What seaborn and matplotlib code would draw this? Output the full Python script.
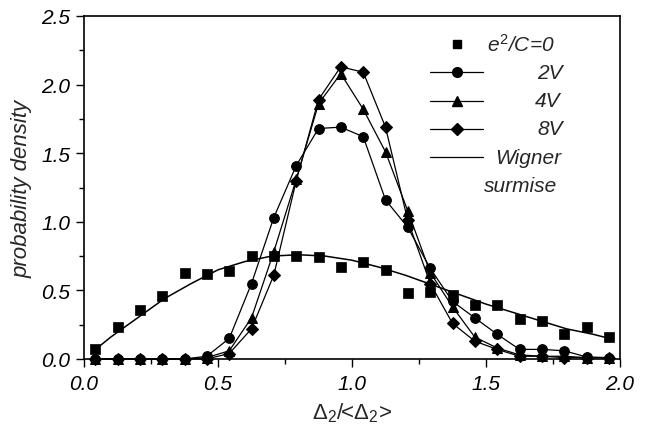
import matplotlib
matplotlib.use("Agg")
import matplotlib.pyplot as plt
import seaborn as sns
import pandas as pd
from matplotlib.lines import Line2D
from matplotlib.ticker import MultipleLocator, FormatStrFormatter

# ---- data ----
x_bins = [0.042, 0.125, 0.208, 0.292, 0.375, 0.458, 0.542, 0.625, 0.708, 0.792, 0.875, 0.958,
          1.042, 1.125, 1.208, 1.292, 1.375, 1.458, 1.542, 1.625, 1.708, 1.792, 1.875, 1.958]
p_0V = [0.07, 0.23, 0.36, 0.46, 0.63, 0.62, 0.64, 0.75, 0.75, 0.75, 0.74, 0.67,
        0.71, 0.65, 0.48, 0.49, 0.47, 0.39, 0.39, 0.29, 0.28, 0.18, 0.23, 0.16]
p_2V = [0.0, 0.0, 0.0, 0.0, 0.0, 0.02, 0.15, 0.55, 1.03, 1.41, 1.68, 1.69,
        1.62, 1.16, 0.96, 0.66, 0.42, 0.30, 0.18, 0.07, 0.07, 0.06, 0.015, 0.01]
p_4V = [0.0, 0.0, 0.0, 0.0, 0.0, 0.01, 0.06, 0.30, 0.78, 1.31, 1.86, 2.08,
        1.82, 1.51, 1.08, 0.63, 0.38, 0.16, 0.08, 0.03, 0.02, 0.02, 0.01, 0.01]
p_8V = [0.0, 0.0, 0.0, 0.0, 0.0, 0.0, 0.04, 0.22, 0.61, 1.30, 1.89, 2.13,
        2.09, 1.69, 1.01, 0.55, 0.26, 0.13, 0.07, 0.02, 0.02, 0.01, 0.01, 0.01]
wigner_x = [0.04, 0.1, 0.2, 0.3, 0.4, 0.5, 0.6, 0.7, 0.8, 0.9, 1.0,
            1.1, 1.2, 1.3, 1.4, 1.5, 1.6, 1.7, 1.8, 1.9, 1.96]
wigner_y = [0.065, 0.16, 0.30, 0.44, 0.55, 0.65, 0.71, 0.75, 0.76, 0.75, 0.72,
            0.67, 0.61, 0.54, 0.47, 0.40, 0.34, 0.28, 0.22, 0.18, 0.15]
legend_labels = [r"$e^2$/C=0", "2V", "4V", "8V", "Wigner", "surmise"]
xlabel = r"$\mathrm{\Delta_2}$/<$\mathrm{\Delta_2}$>"
ylabel = "probability density"

sns.set_style("ticks")
plt.rcParams["font.family"] = ["Liberation Sans", "DejaVu Sans"]
plt.rcParams["mathtext.fontset"] = "custom"
plt.rcParams["mathtext.rm"] = "Liberation Sans"
plt.rcParams["mathtext.it"] = "Liberation Sans:italic"
plt.rcParams["mathtext.bf"] = "Liberation Sans:bold"

fig = plt.figure(figsize=(6.64, 4.31), dpi=100)
ax = fig.add_axes([84 / 664, 1 - 360 / 431, 536 / 664, 343 / 431])

FS = 14.5
ms = 7.0
common = dict(color="black", lw=0.9, markeredgecolor="black", markerfacecolor="black",
              markersize=ms, clip_on=False, zorder=5)

sns.lineplot(x=wigner_x, y=wigner_y, ax=ax, color="black", lw=1.1, zorder=3)
sns.lineplot(x=x_bins, y=p_2V, ax=ax, marker="o", **common)
sns.lineplot(x=x_bins, y=p_4V, ax=ax, marker="^", **common)
sns.lineplot(x=x_bins, y=p_8V, ax=ax, marker="D", **{**common, "markersize": ms - 0.8})
sns.scatterplot(x=x_bins, y=p_0V, ax=ax, marker="s", color="black", edgecolor="black",
                s=ms ** 2, linewidth=0.5, clip_on=False, zorder=6)

ax.set_xlim(0, 2.0)
ax.set_ylim(0, 2.5)
ax.xaxis.set_major_locator(MultipleLocator(0.5))
ax.xaxis.set_minor_locator(MultipleLocator(0.25))
ax.yaxis.set_major_locator(MultipleLocator(0.5))
ax.yaxis.set_minor_locator(MultipleLocator(0.25))
ax.xaxis.set_major_formatter(FormatStrFormatter("%.1f"))
ax.yaxis.set_major_formatter(FormatStrFormatter("%.1f"))
ax.tick_params(axis="both", which="major", direction="out", length=6, width=1.0,
               labelsize=FS + 0.5, color="black", labelcolor="black")
ax.tick_params(axis="both", which="minor", direction="out", length=3.5, width=1.0, color="black")
ax.tick_params(axis="x", pad=5)
ax.tick_params(axis="y", pad=4)
for lab in ax.get_xticklabels() + ax.get_yticklabels():
    lab.set_fontstyle("italic")
for sp in ax.spines.values():
    sp.set_visible(True)
    sp.set_linewidth(1.2)
    sp.set_color("black")

ax.set_xlabel(xlabel, fontsize=16, fontstyle="normal", labelpad=5)
ax.set_ylabel(ylabel, fontsize=16, fontstyle="italic", labelpad=6)

# ---- legend drawn in axes coordinates ----
hx0, hx1, hxm = 0.6455, 0.7444, 0.696
rows = [0.918, 0.836, 0.753, 0.6706, 0.588, 0.505]
text_right = [0.8787, 0.8937, 0.889, 0.8937, 0.891, 0.882]
handles = [("s", False), ("o", True), ("^", True), ("D", True), (None, True)]
for (mk, line), yv in zip(handles, rows):
    if line:
        ax.add_line(Line2D([hx0, hx1], [yv, yv], transform=ax.transAxes, color="black",
                           lw=0.9, clip_on=False))
    if mk is not None:
        msz = ms - 1.5 if mk == "s" else (ms - 0.8 if mk == "D" else ms)
        ax.add_line(Line2D([hxm], [yv], transform=ax.transAxes, marker=mk, color="black",
                           markersize=msz, linestyle="none", clip_on=False))
for lab, yv, xr in zip(legend_labels, rows, text_right):
    ax.text(xr, yv, lab, transform=ax.transAxes, ha="right", va="center", fontsize=FS + 0.5,
            fontstyle="italic")

fig.savefig("out.png", dpi=100)
